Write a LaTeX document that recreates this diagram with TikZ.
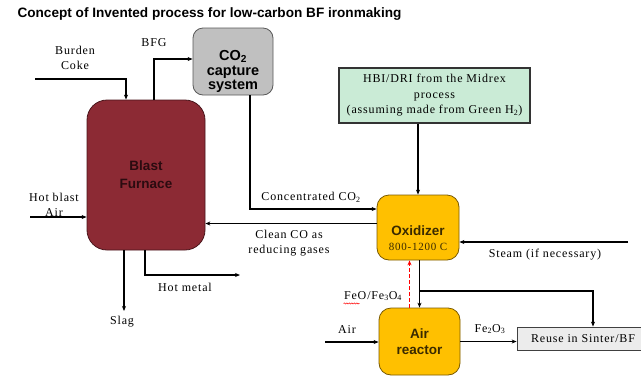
\documentclass[tikz,border=0pt]{standalone}
\usepackage{fontspec}
\setmainfont{Liberation Serif}[LetterSpace=7]
\newfontfamily\sansbf{Liberation Sans}
\usetikzlibrary{arrows.meta,decorations.pathmorphing}
\definecolor{bfred}{HTML}{8C2A34}
\definecolor{bfedge}{HTML}{4A161C}
\definecolor{bftext}{HTML}{2B0B10}
\definecolor{capgray}{HTML}{C0C0C0}
\definecolor{mint}{HTML}{CAEBD6}
\definecolor{oxorange}{HTML}{FFC000}
\definecolor{oxedge}{HTML}{7A5A00}
\definecolor{oxtext}{HTML}{3A2A00}
\definecolor{reusegray}{HTML}{ECECEC}
\definecolor{dashred}{HTML}{FF0000}
\begin{document}
\begin{tikzpicture}[x=1pt,y=-1pt,line width=1.1pt,>={Stealth[length=5pt,width=4pt]},
  unit/.style={draw,inner sep=0pt,align=center,font=\sansbf\bfseries\fontsize{13.5}{16}\selectfont},
  lbl/.style={inner sep=0pt,align=center,font=\fontsize{12}{15}\selectfont}]
  \useasboundingbox[fill=white] (0,0) rectangle (641,376);
  % title
  \node[anchor=west,inner sep=0pt,font=\sansbf\bfseries\fontsize{13.6}{15}\selectfont] (title) at (17,14)
    {Concept of Invented process for low-carbon BF ironmaking};
  % process units
  \node[unit,fill=bfred,draw=bfedge,text=bftext,rounded corners=20pt,
    minimum width=118pt,minimum height=150pt,line width=0.8pt,font=\sansbf\bfseries\fontsize{13.5}{18}\selectfont] (bf) at (146,175)
    {Blast\\Furnace};
  \node[unit,fill=capgray,draw=black!65,rounded corners=10pt,minimum width=80pt,minimum height=67pt,
    line width=0.8pt,font=\sansbf\bfseries\fontsize{14.5}{14.5}\selectfont] (co2) at (233,61.5)
    {\mbox{}\\[16pt]CO\textsubscript{2}\\capture\\system};
  \node[draw=black!80,fill=mint,inner sep=0pt,minimum width=191pt,minimum height=55pt,align=center,
    font=\fontsize{12}{15.5}\selectfont] (hbi) at (434.5,95.5)
    {HBI/DRI from the Midrex\\process\\(assuming made from Green H\textsubscript{2})};
  \node[unit,fill=oxorange,draw=oxedge,text=oxtext,rounded corners=12pt,minimum width=82pt,
    minimum height=65pt,line width=0.8pt] (ox) at (418,227.5)
    {\mbox{}\\[15pt]Oxidizer\\[-1pt]{\normalfont\fontsize{11}{13}\selectfont 800-1200 C}};
  \node[unit,fill=oxorange,draw=oxedge,text=oxtext,rounded corners=12pt,minimum width=81pt,
    minimum height=67pt,line width=0.8pt] (ar) at (419.5,341.5)
    {Air\\reactor};
  \node[draw=black!75,fill=reusegray,inner sep=0pt,minimum width=124pt,minimum height=23pt,
    line width=0.8pt,font=\fontsize{12}{15}\selectfont] (reuse) at (579,338.5)
    {\hspace{8pt}Reuse in Sinter/BF};
  % free ends
  \coordinate (burden) at (35,79);
  \coordinate (blast) at (30,217);
  \coordinate (slag) at (124,311);
  \coordinate (metal) at (240,275);
  \coordinate (steam) at (628,242);
  \coordinate (air) at (325,342);
  \coordinate (clean) at ([yshift=4pt]ox.west);
  \coordinate (split) at (ar.north |- 0,291);
  \coordinate (back) at ([xshift=-10pt]ar.north);
  % connectors
  \draw[->] (burden) -| ([xshift=-20pt]bf.north);
  \draw[->] ([xshift=8pt]bf.north) |- ([yshift=2.5pt]co2.west);
  \draw[->] ([xshift=17pt]co2.south) |- ([yshift=18.5pt]ox.west);
  \draw[->] (clean) -- (clean -| bf.east);
  \draw[->] (blast) -- (blast -| bf.west);
  \draw[->] (slag |- bf.south) -- (slag);
  \draw[->] ([xshift=-1pt]bf.south) |- (metal);
  \draw[->] (ox.north |- hbi.south) -- (ox.north);
  \draw[->] (steam) -- (steam -| ox.east);
  \draw[->] (ar.north |- ox.south) -- (ar.north);
  \draw[->] (split) -| ([xshift=14pt]reuse.north);
  \draw[->,color=dashred,line width=1.6pt,dash pattern=on 4pt off 2pt] (back) -- (back |- ox.south);
  \draw[->] (air) -- (air -| ar.west);
  \draw[->] (ar.east) -- (ar.east -| reuse.west);
  % labels
  \node[lbl] (burdenlbl) at (75,57.5) {Burden\\Coke};
  \node[lbl] (bfglbl) at (154,43) {BFG};
  \node[lbl] (blastlbl) at (54,205) {Hot blast\\Air};
  \node[lbl] (slaglbl) at (122,322) {Slag};
  \node[lbl] (metallbl) at (185,287) {Hot metal};
  \node[lbl] (conclbl) at (311,197) {Concentrated CO\textsubscript{2}};
  \node[lbl] (cleanlbl) at (289,243.5) {Clean CO as\\reducing gases};
  \node[lbl] (steamlbl) at (545,255) {Steam (if necessary)};
  \node[lbl] (feo) at (373,296) {FeO/Fe\textsubscript{3}O\textsubscript{4}};
  \draw[red,line width=0.5pt,decorate,decoration={snake,amplitude=0.6pt,segment length=2.5pt}]
    ([yshift=-2pt]feo.south west) -- ([xshift=16pt,yshift=-2pt]feo.south west);
  \node[lbl] (airlbl) at (347,330) {Air};
  \node[lbl] (fe2o3) at (490,329) {Fe\textsubscript{2}O\textsubscript{3}};
\end{tikzpicture}
\end{document}
